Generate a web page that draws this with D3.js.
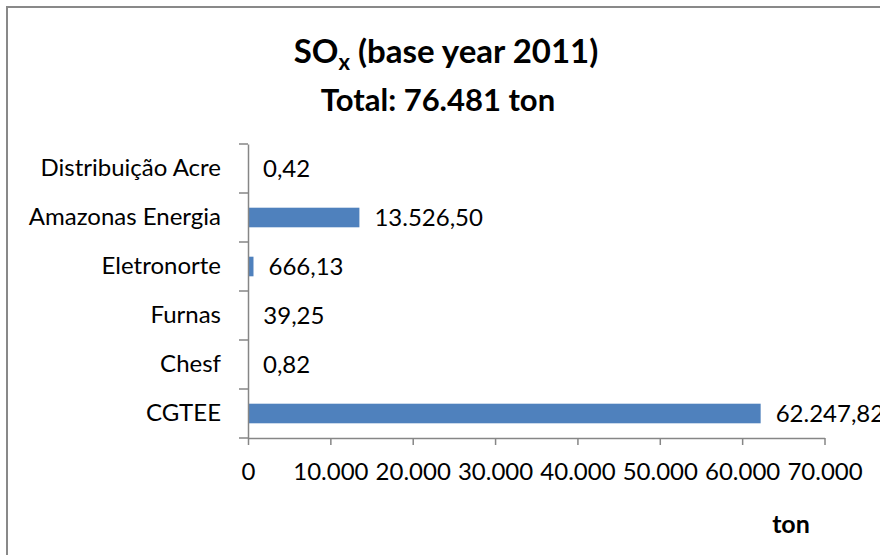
<!DOCTYPE html>
<html>
<head>
<meta charset="utf-8">
<script src="https://cdn.jsdelivr.net/npm/d3@7"></script>
<style>
  body { margin: 0; background: #fff; }
  text { font-family: Lato, "Open Sans", sans-serif; fill: #000; }
</style>
</head>
<body>
<div id="chart"></div>
<script>
// data
const categories = ["Distribuição Acre", "Amazonas Energia", "Eletronorte", "Furnas", "Chesf", "CGTEE"]
const values = [0.42, 13526.50, 666.13, 39.25, 0.82, 62247.82]
const xTicks = [0, 10000, 20000, 30000, 40000, 50000, 60000, 70000]
const titleMain = "SO"
const titleSub = "x"
const titleRest = " (base year 2011)"
const subtitle = "Total: 76.481 ton"
const axisTitle = "ton"

const width = 880
const height = 555
const margin = ({top: 144, right: 55.5, bottom: 117, left: 248})

const ptBR = d3.formatLocale({decimal: ",", thousands: ".", grouping: [3], currency: ["R$", ""]})
const fmtTick = ptBR.format(",.0f")
const fmtVal = ptBR.format(",.2f")

const svg = d3.select("#chart").append("svg")
  .attr("width", width)
  .attr("height", height)

// chart frame (right and bottom edges fall outside the picture)
svg.append("rect")
  .attr("x", 7).attr("y", 7)
  .attr("width", width + 20).attr("height", height + 20)
  .attr("fill", "none")
  .attr("stroke", "#898989")
  .attr("stroke-width", 2)

const data = categories.map((c, i) => ({cat: c, val: values[i]}))

const x = d3.scaleLinear()
  .domain([0, 70000])
  .range([margin.left, width - margin.right])
const y = d3.scaleBand()
  .domain(categories)
  .range([margin.top, height - margin.bottom])
  .paddingInner(0.6)
  .paddingOuter(0.3)

// bars
svg.append("g")
  .selectAll("rect")
  .data(data)
  .enter().append("rect")
  .attr("x", x(0))
  .attr("y", d => y(d.cat))
  .attr("width", d => x(d.val) - x(0))
  .attr("height", y.bandwidth())
  .attr("fill", "#4F81BD")

// value labels
svg.append("g")
  .selectAll("text")
  .data(data)
  .enter().append("text")
  .attr("x", d => x(d.val) + 15)
  .attr("y", d => y(d.cat) + y.bandwidth() / 2)
  .attr("dy", "0.35em")
  .attr("font-size", 24)
  .text(d => fmtVal(d.val))

// x axis
const xAxis = svg.append("g")
  .attr("transform", `translate(0, ${height - margin.bottom})`)
  .call(d3.axisBottom(x).tickValues(xTicks).tickFormat(fmtTick).tickSize(7).tickSizeOuter(0))
xAxis.select(".domain").attr("stroke", "#868686").attr("stroke-width", 1.5)
xAxis.selectAll(".tick line").attr("stroke", "#868686").attr("stroke-width", 1.5)
xAxis.selectAll(".tick text")
  .attr("y", 42).attr("dy", 0)
  .attr("font-size", 24)
  .attr("font-family", "Lato, sans-serif")
  .attr("fill", "#000")

// y axis: labels at band centres, ticks on band boundaries
const yAxis = svg.append("g")
  .attr("transform", `translate(${x(0)},0)`)
  .call(d3.axisLeft(y).tickSize(0).tickPadding(27).tickSizeOuter(0))
yAxis.select(".domain").attr("stroke", "#868686").attr("stroke-width", 1.5)
yAxis.selectAll(".tick text")
  .attr("font-size", 24)
  .attr("font-family", "Lato, sans-serif")
  .attr("fill", "#000")

const gap = (y.step() - y.bandwidth()) / 2
const bounds = categories.map(c => y(c) - gap).concat([y.range()[1]])
svg.append("g")
  .selectAll("line")
  .data(bounds)
  .enter().append("line")
  .attr("x1", x(0) - 9).attr("x2", x(0))
  .attr("y1", d => d).attr("y2", d => d)
  .attr("stroke", "#868686")
  .attr("stroke-width", 1.5)

// titles
const t = svg.append("text")
  .attr("x", 446).attr("y", 63)
  .attr("text-anchor", "middle")
  .attr("font-size", 33)
  .attr("font-weight", "bold")
t.append("tspan").text(titleMain)
t.append("tspan").attr("font-size", 22).attr("dy", 7).text(titleSub)
t.append("tspan").attr("dy", -7).text(titleRest)

svg.append("text")
  .attr("x", 438).attr("y", 111)
  .attr("text-anchor", "middle")
  .attr("font-size", 31)
  .attr("font-weight", "bold")
  .text(subtitle)

svg.append("text")
  .attr("x", 791).attr("y", 533)
  .attr("text-anchor", "middle")
  .attr("font-size", 25)
  .attr("font-weight", "bold")
  .text(axisTitle)
</script>
</body>
</html>
